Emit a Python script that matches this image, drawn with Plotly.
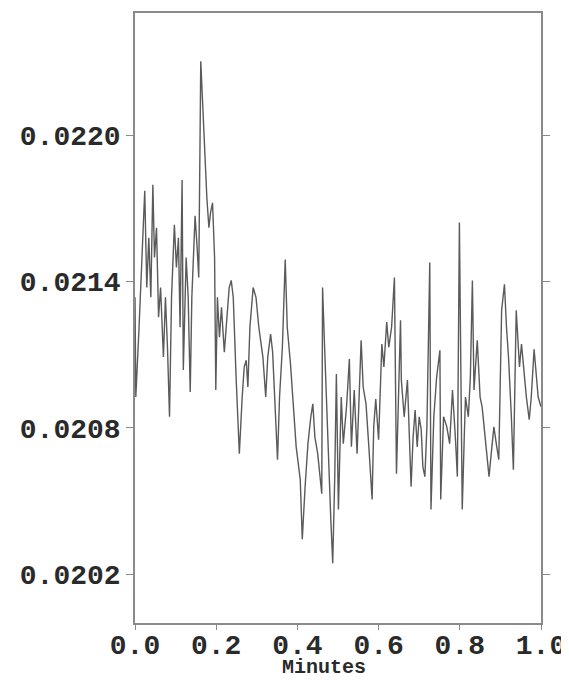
import plotly.graph_objects as go

# Time in minutes
minutes = [
    0.000, 0.002, 0.010, 0.017, 0.024, 0.029, 0.034, 0.039, 0.044, 0.048,
    0.053, 0.058, 0.063, 0.070, 0.075, 0.080, 0.085, 0.090, 0.097, 0.102,
    0.107, 0.111, 0.116, 0.119, 0.126, 0.131, 0.136, 0.140, 0.148, 0.153,
    0.157, 0.162, 0.167, 0.172, 0.177, 0.182, 0.186, 0.191, 0.196, 0.199,
    0.203, 0.208, 0.213, 0.220, 0.225, 0.232, 0.237, 0.242, 0.249, 0.257,
    0.264, 0.269, 0.274, 0.278, 0.283, 0.291, 0.298, 0.305, 0.315, 0.322,
    0.327, 0.334, 0.339, 0.346, 0.351, 0.356, 0.363, 0.370, 0.375, 0.383,
    0.390, 0.397, 0.407, 0.412, 0.419, 0.426, 0.433, 0.438, 0.443, 0.450,
    0.460, 0.462, 0.467, 0.475, 0.482, 0.487, 0.492, 0.496, 0.501, 0.508,
    0.513, 0.521, 0.528, 0.533, 0.540, 0.547, 0.552, 0.557, 0.562, 0.569,
    0.576, 0.584, 0.588, 0.593, 0.600, 0.608, 0.613, 0.620, 0.625, 0.632,
    0.639, 0.644, 0.649, 0.654, 0.656, 0.663, 0.671, 0.676, 0.680, 0.685,
    0.690, 0.695, 0.700, 0.705, 0.709, 0.714, 0.719, 0.726, 0.729, 0.736,
    0.743, 0.751, 0.753, 0.760, 0.768, 0.775, 0.782, 0.789, 0.794, 0.799,
    0.806, 0.811, 0.814, 0.821, 0.826, 0.831, 0.835, 0.843, 0.850, 0.855,
    0.862, 0.872, 0.879, 0.884, 0.891, 0.896, 0.903, 0.910, 0.915, 0.920,
    0.927, 0.932, 0.939, 0.947, 0.952, 0.959, 0.964, 0.971, 0.976, 0.983,
    0.988, 0.993, 1.000,
]

# Signal values
signal = [
    0.021335, 0.020926, 0.021212, 0.021498, 0.021771, 0.021375, 0.021579, 0.021335, 0.021796, 0.021498,
    0.021620, 0.021253, 0.021375, 0.021090, 0.021335, 0.021130, 0.020845, 0.021335, 0.021632, 0.021457,
    0.021579, 0.021212, 0.021816, 0.021037, 0.021498, 0.021335, 0.020947, 0.021335, 0.021669, 0.021539,
    0.021416, 0.022302, 0.022110, 0.021988, 0.021743, 0.021620, 0.021682, 0.021722, 0.021498, 0.020955,
    0.021335, 0.021171, 0.021294, 0.021110, 0.021212, 0.021375, 0.021404, 0.021335, 0.021008, 0.020694,
    0.020926, 0.021049, 0.021077, 0.020967, 0.021212, 0.021375, 0.021335, 0.021212, 0.021090, 0.020926,
    0.021090, 0.021184, 0.021110, 0.020845, 0.020669, 0.020926, 0.021130, 0.021490, 0.021212, 0.021061,
    0.020886, 0.020722, 0.020588, 0.020343, 0.020559, 0.020735, 0.020845, 0.020898, 0.020763, 0.020694,
    0.020530, 0.021375, 0.021130, 0.020722, 0.020437, 0.020245, 0.020600, 0.021020, 0.020465, 0.020926,
    0.020735, 0.020886, 0.021082, 0.020722, 0.020955, 0.020694, 0.020926, 0.021159, 0.020967, 0.020898,
    0.020722, 0.020506, 0.020804, 0.020918, 0.020751, 0.021143, 0.021049, 0.021233, 0.021130, 0.021212,
    0.021416, 0.020612, 0.020926, 0.021241, 0.020996, 0.020845, 0.020996, 0.020763, 0.020559, 0.020763,
    0.020873, 0.020722, 0.020845, 0.020792, 0.020641, 0.020600, 0.020804, 0.021477, 0.020465, 0.020845,
    0.021008, 0.021118, 0.020506, 0.020845, 0.020804, 0.020735, 0.020955, 0.020763, 0.020600, 0.021641,
    0.020465, 0.020763, 0.020926, 0.020845, 0.021008, 0.021404, 0.020955, 0.021159, 0.020926, 0.020886,
    0.020763, 0.020600, 0.020722, 0.020804, 0.020722, 0.020669, 0.021282, 0.021388, 0.021212, 0.021090,
    0.020845, 0.020628, 0.021282, 0.021049, 0.021143, 0.021008, 0.020926, 0.020833, 0.020926, 0.021122,
    0.021008, 0.020926, 0.020886,
]

x_ticks = [0.0, 0.2, 0.4, 0.6, 0.8, 1.0]
x_tick_labels = ["0.0", "0.2", "0.4", "0.6", "0.8", "1.0"]
y_ticks = [0.0202, 0.0208, 0.0214, 0.0220]
y_tick_labels = ["0.0202", "0.0208", "0.0214", "0.0220"]
x_title = "Minutes"

tick_font = dict(family="Liberation Mono, Courier New, monospace", size=28,
                 color="#2a2a2a", weight="bold")

fig = go.Figure()
fig.add_trace(go.Scatter(
    x=minutes, y=signal, mode="lines",
    line=dict(color="#5a5a5a", width=1.4),
    showlegend=False, hoverinfo="skip",
))

fig.update_layout(
    width=561, height=670,
    margin=dict(l=127, r=15, t=3, b=55),
    paper_bgcolor="white", plot_bgcolor="white",
    xaxis=dict(
        range=[0, 1], tickvals=x_ticks, ticktext=x_tick_labels,
        showgrid=False, zeroline=False,
        showline=True, linecolor="#8a8a8a", linewidth=1.5, mirror=True,
        ticks="outside", ticklen=5, tickcolor="#8a8a8a", tickwidth=1.2,
        tickfont=tick_font, ticklabeloverflow="allow", ticklabelstandoff=-9,
    ),
    yaxis=dict(
        range=[0.0200, 0.0225], tickvals=y_ticks, ticktext=y_tick_labels,
        showgrid=False, zeroline=False,
        showline=True, linecolor="#8a8a8a", linewidth=1.5, mirror="ticks",
        ticks="outside", ticklen=7, tickcolor="#8a8a8a", tickwidth=1.2,
        tickfont=tick_font, ticklabeloverflow="allow",
    ),
    annotations=[dict(
        text=x_title, xref="paper", yref="paper",
        x=0.465, y=-0.0735, xanchor="center", yanchor="middle",
        showarrow=False,
        font=dict(family="Liberation Mono, Courier New, monospace", size=20,
                  color="#2a2a2a", weight="bold"),
    )],
)

fig.write_html("out.html")
